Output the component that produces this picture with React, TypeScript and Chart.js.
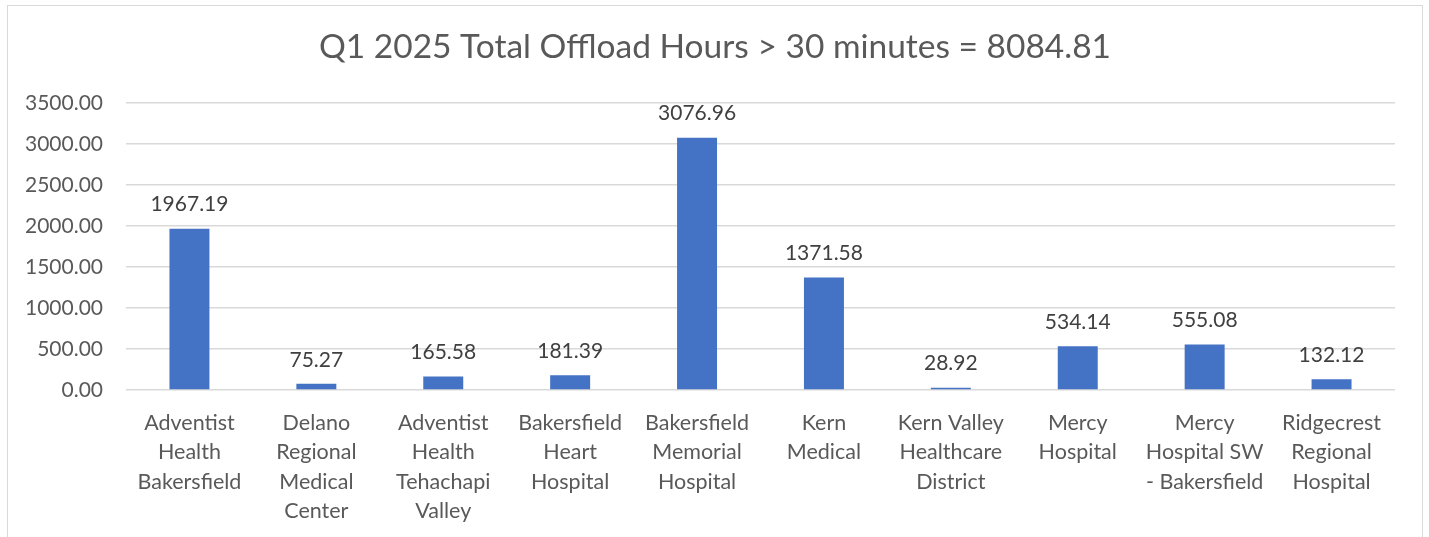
import React, { useEffect, useRef } from "react";
import { Chart, registerables } from "chart.js";

Chart.register(...registerables);

const TITLE = "Q1 2025 Total Offload Hours > 30 minutes = 8084.81";
const categories: string[][] = [
  ["Adventist", "Health", "Bakersfield"],
  ["Delano", "Regional", "Medical", "Center"],
  ["Adventist", "Health", "Tehachapi", "Valley"],
  ["Bakersfield", "Heart", "Hospital"],
  ["Bakersfield", "Memorial", "Hospital"],
  ["Kern", "Medical"],
  ["Kern Valley", "Healthcare", "District"],
  ["Mercy", "Hospital"],
  ["Mercy", "Hospital SW", "- Bakersfield"],
  ["Ridgecrest", "Regional", "Hospital"],
];
const offloadHours: number[] = [1967.19, 75.27, 165.58, 181.39, 3076.96, 1371.58, 28.92, 534.14, 555.08, 132.12];
const yMin = 0;
const yMax = 3500;
const yStep = 500;

const FONT = "Lato, 'Open Sans', sans-serif";

const dataLabelPlugin = {
  id: "dataLabels",
  afterDatasetsDraw(chart: any) {
    const ctx = chart.ctx;
    const meta = chart.getDatasetMeta(0);
    ctx.save();
    ctx.font = `21px ${FONT}`;
    ctx.fillStyle = "#404040";
    ctx.textAlign = "center";
    ctx.textBaseline = "middle";
    meta.data.forEach((bar: any, i: number) => {
      const v = chart.data.datasets[0].data[i] as number;
      ctx.fillText(v.toFixed(2), bar.x, bar.y - 24);
    });
    ctx.restore();
  },
};

// Title centred over the whole chart box (as in the original), not over the padded area
const boxTitlePlugin = {
  id: "boxTitle",
  afterDraw(chart: any) {
    const ctx = chart.ctx;
    ctx.save();
    ctx.font = `33.5px ${FONT}`;
    ctx.fillStyle = "#595959";
    ctx.textAlign = "center";
    ctx.textBaseline = "middle";
    ctx.fillText(TITLE, 715, 47);
    ctx.restore();
  },
};

export default function App() {
  const ref = useRef<HTMLCanvasElement | null>(null);
  useEffect(() => {
    if (!ref.current) return;
    const chart = new Chart(ref.current, {
      type: "bar",
      data: {
        labels: categories as any,
        datasets: [
          {
            data: offloadHours,
            backgroundColor: "#4472C4",
            barPercentage: 0.315,
            categoryPercentage: 1,
          },
        ],
      },
      options: {
        responsive: false,
        animation: false,
        layout: { padding: { left: 0, right: 34, top: 103, bottom: 0 } },
        plugins: {
          legend: { display: false },
          tooltip: { enabled: false },
          title: { display: false },
        },
        scales: {
          x: {
            grid: { display: false },
            border: { display: false },
            ticks: {
              color: "#595959",
              font: { family: FONT, size: 21.5, lineHeight: 1.37 },
              padding: 10,
              maxRotation: 0,
              autoSkip: false,
            },
            afterFit(scale: any) {
              scale.height = 147;
            },
          },
          y: {
            min: yMin,
            max: yMax,
            grid: { color: "#d9d9d9", lineWidth: 1.5, drawTicks: false },
            border: { display: false },
            ticks: {
              stepSize: yStep,
              color: "#595959",
              font: { family: FONT, size: 21 },
              padding: 23,
              callback: (v: any) => Number(v).toFixed(2),
            },
            afterFit(scale: any) {
              scale.width = 126;
            },
          },
        },
      },
      plugins: [dataLabelPlugin, boxTitlePlugin],
    });
    return () => chart.destroy();
  }, []);

  return (
    <div style={{ position: "fixed", left: 0, top: 0, width: 1429, height: 537, background: "#fff" }}>
      <div
        style={{
          position: "absolute",
          left: 7,
          top: 5,
          width: 1416,
          height: 560,
          border: "1.5px solid #d9d9d9",
          boxSizing: "border-box",
        }}
      />
      <canvas ref={ref} width={1429} height={537} style={{ position: "absolute", left: 0, top: 0 }} />
    </div>
  );
}
